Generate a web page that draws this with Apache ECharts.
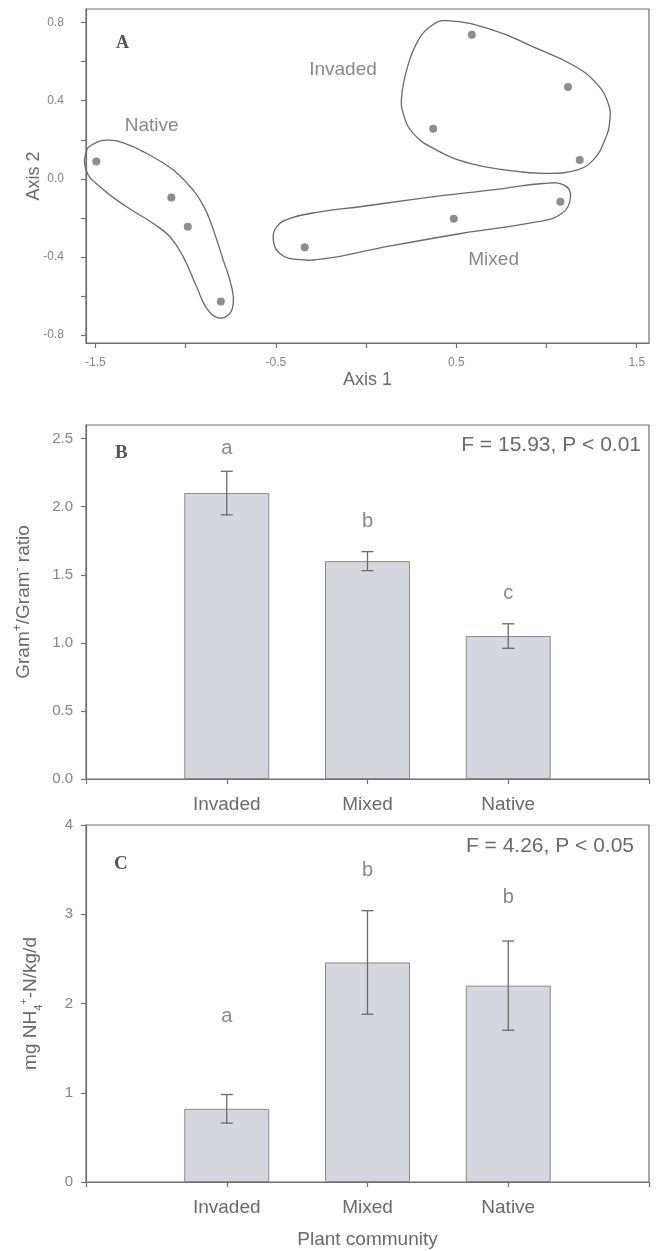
<!DOCTYPE html>
<html><head><meta charset="utf-8">
<script src="https://cdn.jsdelivr.net/npm/echarts@6/dist/echarts.min.js"></script>
<style>html,body{margin:0;padding:0;background:#fff}#c{width:656px;height:1251px}</style>
</head><body><div id="c"></div>
<script>
// ---------- Panel A: ordination ----------
const nativeX = [-1.495, -1.079, -0.988, -0.805];
const nativeY = [0.089, -0.096, -0.246, -0.629];
const invadedX = [0.586, 1.119, 0.372, 1.184];
const invadedY = [0.738, 0.470, 0.256, 0.096];
const mixedX = [-0.340, 0.486, 1.077];
const mixedY = [-0.350, -0.205, -0.118];
const hullNative = [[-1.548,0.147],[-1.512,0.178],[-1.437,0.198],[-1.345,0.184],[-1.216,0.130],[-1.068,0.045],[-0.958,-0.058],[-0.900,-0.140],[-0.865,-0.212],[-0.791,-0.417],[-0.745,-0.553],[-0.736,-0.638],[-0.764,-0.698],[-0.819,-0.712],[-0.883,-0.664],[-0.939,-0.553],[-1.013,-0.400],[-1.087,-0.297],[-1.179,-0.229],[-1.327,-0.143],[-1.475,-0.041],[-1.552,0.045]];
const hullInvaded = [[0.446,0.810],[0.704,0.762],[0.926,0.676],[1.148,0.582],[1.277,0.489],[1.342,0.386],[1.351,0.301],[1.323,0.198],[1.258,0.096],[1.166,0.045],[0.981,0.028],[0.779,0.045],[0.575,0.079],[0.391,0.147],[0.261,0.233],[0.206,0.335],[0.197,0.420],[0.225,0.557],[0.280,0.694],[0.354,0.779]];
const hullMixed = [[-0.514,-0.314],[-0.496,-0.246],[-0.422,-0.203],[-0.256,-0.169],[-0.034,-0.143],[0.295,-0.101],[0.760,-0.050],[0.981,-0.024],[1.098,-0.032],[1.133,-0.092],[1.084,-0.178],[0.944,-0.221],[0.526,-0.280],[0.060,-0.357],[-0.219,-0.408],[-0.385,-0.413],[-0.477,-0.382]];
const groupNames = ['Invaded', 'Native', 'Mixed'];
const groupLabelX = [-0.128, -1.188, 0.707];
const groupLabelY = [0.557, 0.270, -0.413];
const axisA_xTicks = [-1.5, -1.0, -0.5, 0, 0.5, 1.0, 1.5];
const axisA_xLabels = [-1.5, -0.5, 0.5, 1.5];
const axisA_yTicks = [-0.8, -0.6, -0.4, -0.2, 0, 0.2, 0.4, 0.6, 0.8];
const axisA_yLabels = [-0.8, -0.4, 0, 0.4, 0.8];

// ---------- Panels B, C: bars ----------
const categories = ['Invaded', 'Mixed', 'Native'];
const gramRatio = [2.10, 1.60, 1.05];
const gramRatioErr = [0.16, 0.07, 0.09];
const gramLetters = ['a', 'b', 'c'];
const gramLetterY = [2.43, 1.89, 1.365];
const gramTicks = [0, 0.5, 1.0, 1.5, 2.0, 2.5];
const nh4 = [0.82, 2.46, 2.20];
const nh4Err = [0.16, 0.58, 0.50];
const nh4Letters = ['a', 'b', 'b'];
const nh4LetterY = [1.86, 3.49, 3.19];
const nh4Ticks = [0, 1, 2, 3, 4];

const FONT = '"Liberation Sans", Arial, sans-serif';
const SERIF = '"Liberation Serif", "Times New Roman", serif';
const TXT = '#6a6a6a';
const TICKTXT = '#858585';
const AX = '#707070';

const chart = echarts.init(document.getElementById('c'), null, {renderer: 'canvas'});

const catData = [''].concat(categories, ['']);
const pad = arr => ['-'].concat(arr, ['-']);

function hullSeries(hull) {
  return {
    type: 'custom', xAxisIndex: 0, yAxisIndex: 0, silent: true,
    data: [[hull[0][0], hull[0][1]]],
    renderItem: (params, api) => ({
      type: 'polygon',
      shape: {points: hull.map(p => api.coord(p)), smooth: 0.45},
      style: {fill: 'none', stroke: '#6a6a6a', lineWidth: 1.3}
    }),
    z: 2
  };
}
function errSeries(ax, vals, errs) {
  return {
    type: 'custom', xAxisIndex: ax, yAxisIndex: ax, silent: true,
    data: vals.map((v, i) => [i + 1, v, errs[i]]),
    renderItem: (params, api) => {
      const x = api.value(0), v = api.value(1), e = api.value(2);
      const t = api.coord([x, v + e]), b = api.coord([x, v - e]);
      const w = 6;
      const st = {stroke: '#6a6a6a', lineWidth: 1.3};
      return {type: 'group', children: [
        {type: 'line', shape: {x1: t[0], y1: t[1], x2: b[0], y2: b[1]}, style: st},
        {type: 'line', shape: {x1: t[0] - w, y1: t[1], x2: t[0] + w, y2: t[1]}, style: st},
        {type: 'line', shape: {x1: b[0] - w, y1: b[1], x2: b[0] + w, y2: b[1]}, style: st}
      ]};
    },
    z: 5
  };
}
function letterSeries(ax, ys, letters) {
  return {
    type: 'scatter', xAxisIndex: ax, yAxisIndex: ax, symbolSize: 0, silent: true,
    data: ys.map((y, i) => [i + 1, y]),
    label: {show: true, position: 'inside', formatter: p => letters[p.dataIndex],
      fontFamily: FONT, fontSize: 20, color: TXT}
  };
}
const gridCommon = {show: true, borderColor: AX, borderWidth: 1.2, containLabel: false};
const tickStyle = {show: true, inside: false, length: 5, lineStyle: {color: AX, width: 1.2}};
const lineStyle = {show: true, onZero: false, lineStyle: {color: AX, width: 1.2}};

const option = {
  backgroundColor: '#ffffff',
  animation: false,
  grid: [
    Object.assign({left: 86, top: 9, width: 563, height: 334}, gridCommon),
    Object.assign({left: 86, top: 425, width: 563, height: 354}, gridCommon),
    Object.assign({left: 86, top: 825, width: 563, height: 357}, gridCommon)
  ],
  xAxis: [
    {type: 'value', gridIndex: 0, min: -1.552, max: 1.568,
     axisLine: lineStyle, splitLine: {show: false},
     axisTick: Object.assign({customValues: axisA_xTicks}, tickStyle),
     axisLabel: {customValues: axisA_xLabels, formatter: v => v.toFixed(1), margin: 14,
       fontFamily: FONT, fontSize: 12, color: TICKTXT},
     name: 'Axis 1', nameLocation: 'middle', nameGap: 28,
     nameTextStyle: {fontFamily: FONT, fontSize: 18, color: TXT}},
    {type: 'category', gridIndex: 1, data: catData, boundaryGap: false,
     axisLine: lineStyle, axisTick: Object.assign({interval: 0}, tickStyle),
     axisLabel: {interval: 0, margin: 16, fontFamily: FONT, fontSize: 19, color: TXT},
     splitLine: {show: false}},
    {type: 'category', gridIndex: 2, data: catData, boundaryGap: false,
     axisLine: lineStyle, axisTick: Object.assign({interval: 0}, tickStyle),
     axisLabel: {interval: 0, margin: 16, fontFamily: FONT, fontSize: 19, color: TXT},
     splitLine: {show: false},
     name: 'Plant community', nameLocation: 'middle', nameGap: 48,
     nameTextStyle: {fontFamily: FONT, fontSize: 19, color: TXT}}
  ],
  yAxis: [
    {type: 'value', gridIndex: 0, min: -0.841, max: 0.870,
     axisLine: lineStyle, splitLine: {show: false},
     axisTick: Object.assign({customValues: axisA_yTicks}, tickStyle),
     axisLabel: {customValues: axisA_yLabels, formatter: v => v.toFixed(1), margin: 22,
       fontFamily: FONT, fontSize: 12, color: TICKTXT},
     name: 'Axis 2', nameLocation: 'middle', nameGap: 43, nameMoveOverlap: false,
     nameTextStyle: {fontFamily: FONT, fontSize: 18, color: TXT}},
    {type: 'value', gridIndex: 1, min: 0, max: 2.6,
     axisLine: lineStyle, splitLine: {show: false},
     axisTick: Object.assign({customValues: gramTicks}, tickStyle),
     axisLabel: {customValues: gramTicks, formatter: v => v.toFixed(1), margin: 13,
       fontFamily: FONT, fontSize: 15, color: TICKTXT},
     name: '{t|Gram}{s|+}{t|/Gram}{s|-}{t| ratio}', nameLocation: 'middle', nameGap: 50,
     nameTextStyle: {fontFamily: FONT, fontSize: 19, color: TXT,
       rich: {t: {fontFamily: FONT, fontSize: 19, color: TXT, lineHeight: 24},
              s: {fontFamily: FONT, fontSize: 12, color: TXT, verticalAlign: 'top', lineHeight: 24}}}},
    {type: 'value', gridIndex: 2, min: 0, max: 4,
     axisLine: lineStyle, splitLine: {show: false},
     axisTick: Object.assign({customValues: nh4Ticks}, tickStyle),
     axisLabel: {customValues: nh4Ticks, formatter: v => String(v), margin: 13,
       fontFamily: FONT, fontSize: 15, color: TICKTXT},
     name: '{t|mg NH}{sb|4}{sp|+}{t|-N/kg/d}', nameLocation: 'middle', nameGap: 42,
     nameTextStyle: {fontFamily: FONT, fontSize: 19, color: TXT,
       rich: {t: {fontFamily: FONT, fontSize: 19, color: TXT, lineHeight: 26},
              sb: {fontFamily: FONT, fontSize: 11, color: TXT, verticalAlign: 'bottom', lineHeight: 26},
              sp: {fontFamily: FONT, fontSize: 11, color: TXT, verticalAlign: 'top', lineHeight: 26}}}}
  ],
  series: [
    hullSeries(hullNative), hullSeries(hullInvaded), hullSeries(hullMixed),
    {type: 'scatter', xAxisIndex: 0, yAxisIndex: 0, symbol: 'circle', symbolSize: 8,
     itemStyle: {color: '#707070'}, silent: true,
     data: nativeX.map((x, i) => [x, nativeY[i]])
       .concat(invadedX.map((x, i) => [x, invadedY[i]]))
       .concat(mixedX.map((x, i) => [x, mixedY[i]])), z: 3},
    {type: 'scatter', xAxisIndex: 0, yAxisIndex: 0, symbolSize: 0, silent: true,
     data: groupLabelX.map((x, i) => [x, groupLabelY[i]]),
     label: {show: true, position: 'inside', formatter: p => groupNames[p.dataIndex],
       fontFamily: FONT, fontSize: 19, color: TXT}},
    {type: 'bar', xAxisIndex: 1, yAxisIndex: 1, data: pad(gramRatio), barWidth: 85, silent: true,
     itemStyle: {color: '#d5d7de', borderColor: '#8a8a8a', borderWidth: 1}},
    errSeries(1, gramRatio, gramRatioErr),
    letterSeries(1, gramLetterY, gramLetters),
    {type: 'bar', xAxisIndex: 2, yAxisIndex: 2, data: pad(nh4), barWidth: 85, silent: true,
     itemStyle: {color: '#d5d7de', borderColor: '#8a8a8a', borderWidth: 1}},
    errSeries(2, nh4, nh4Err),
    letterSeries(2, nh4LetterY, nh4Letters)
  ],
  graphic: [
    {type: 'text', left: 116, top: 34, style: {text: 'A', font: 'bold 18px ' + SERIF, fill: '#555'}},
    {type: 'text', left: 115, top: 444, style: {text: 'B', font: 'bold 19px ' + SERIF, fill: '#555'}},
    {type: 'text', left: 114, top: 855, style: {text: 'C', font: 'bold 19px ' + SERIF, fill: '#555'}},
    {type: 'text', right: 15, top: 435, style: {text: 'F = 15.93, P < 0.01', font: '21px ' + FONT, fill: TXT}},
    {type: 'text', right: 22, top: 836, style: {text: 'F = 4.26, P < 0.05', font: '21px ' + FONT, fill: TXT}}
  ]
};
chart.setOption(option);
</script>
</body></html>
